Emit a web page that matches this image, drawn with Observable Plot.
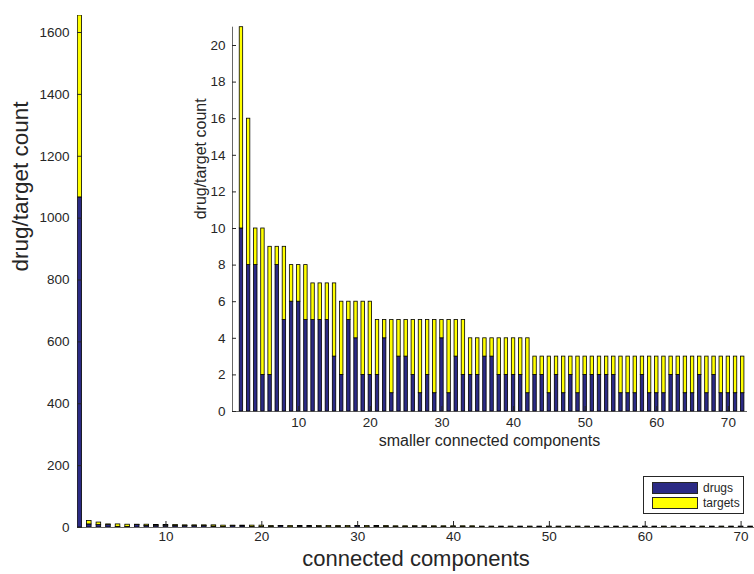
<!DOCTYPE html>
<html><head><meta charset="utf-8">
<script src="https://cdn.jsdelivr.net/npm/d3@7"></script>
<script src="https://cdn.jsdelivr.net/npm/@observablehq/plot@0.6"></script>
<style>
body{margin:0;background:#fff;}
#wrap{position:relative;width:754px;height:574px;overflow:hidden;font-family:"Liberation Sans",Arial,sans-serif;color:#262626;}
#wrap svg{position:absolute;left:0;top:0;}
#legend{position:absolute;left:643px;top:476px;width:99px;height:36px;border:1px solid #262626;background:#fff;font-size:12px;}
#legend .row{position:absolute;left:8px;height:12px;display:flex;align-items:center;}
#legend .sw{width:44px;height:10px;border:1px solid #262626;margin-right:5px;}
</style></head><body><div id="wrap"><div id="legend"></div></div>
<script>
// ---- data ----
const components = d3.range(1, 73);
const drugs = [1067, 10,8,8,2,2,8,5,6,6,5, 5,5,5,3,2,5,4,2,2,2, 4,1,3,3,2,1,2,1,4,1, 3,2,2,2,3,3,2,2,2,2, 1,2,2,1,2,1,2,1,2,2, 2,2,2,1,1,1,2,1,1,1, 2,2,1,1,2,1,2,1,1,1, 1];
const targets = [588, 11,8,2,8,7,1,4,2,2,3, 2,2,2,4,4,1,2,4,4,3, 1,4,2,2,3,4,3,4,1,4, 2,3,2,2,1,1,2,2,2,2, 3,1,1,2,1,2,1,2,1,1, 1,1,1,2,2,2,1,2,2,2, 1,1,2,2,1,2,1,2,2,2, 2];
const seriesNames = ["drugs", "targets"];
const mainYTicks = [0, 200, 400, 600, 800, 1000, 1200, 1400, 1600];
const insetYTicks = [0, 2, 4, 6, 8, 10, 12, 14, 16, 18, 20];
const xTicks = [10, 20, 30, 40, 50, 60, 70];

const NAVY = "#2b2a84", YELLOW = "#ffff00", INK = "#262626";
const colors = [NAVY, YELLOW];

function rows(skipFirst) {
  const out = [];
  components.forEach((c, i) => {
    if (skipFirst && i === 0) return;
    out.push({c, series: "drugs", y1: 0, y2: drugs[i]});
    out.push({c, series: "targets", y1: drugs[i], y2: drugs[i] + targets[i]});
  });
  return out;
}
const HW = 0.24;
const fmt = d3.format("d");
const font = {fontFamily: "Liberation Sans, Arial, sans-serif", background: "transparent", color: INK, overflow: "visible"};

const main = Plot.plot({
  width: 754, height: 574,
  marginLeft: 77, marginRight: 0, marginTop: 15, marginBottom: 47,
  style: {...font, fontSize: "13.5px"},
  x: {domain: [0.77, 71.4], ticks: xTicks, label: null},
  y: {domain: [0, 1655], ticks: mainYTicks, label: null},
  color: {domain: seriesNames, range: colors},
  marks: [
    Plot.rect(rows(false), {x1: d => d.c - HW, x2: d => d.c + HW, y1: "y1", y2: "y2", fill: "series", stroke: "black", strokeWidth: 0.8, clip: true}),
    Plot.frame({anchor: "left", stroke: INK, strokeWidth: 0.7}),
    Plot.frame({anchor: "bottom", stroke: INK, strokeWidth: 0.7}),
    Plot.axisX({ticks: xTicks, tickFormat: fmt, tickSize: -6, tickPadding: 10, stroke: INK, fill: INK, label: null}),
    Plot.axisY({ticks: mainYTicks, tickFormat: fmt, tickSize: -5, tickPadding: 13, stroke: INK, fill: INK, label: null}),
    Plot.text(["connected components"], {frameAnchor: "bottom", dy: 38, fontSize: 22, fill: INK}),
    Plot.text(["drug/target count"], {frameAnchor: "left", dx: -57, rotate: -90, fontSize: 22.5, fill: INK})
  ]
});

const inset = Plot.plot({
  width: 754, height: 574,
  marginLeft: 232, marginRight: 8, marginTop: 26.7, marginBottom: 163,
  style: {...font, fontSize: "13.5px"},
  x: {domain: [0.75, 72.53], ticks: xTicks, label: null},
  y: {domain: [0, 21], ticks: insetYTicks, label: null},
  color: {domain: seriesNames, range: colors},
  marks: [
    Plot.rect(rows(true), {x1: d => d.c - HW, x2: d => d.c + HW, y1: "y1", y2: "y2", fill: "series", stroke: "black", strokeWidth: 0.8}),
    Plot.frame({anchor: "left", stroke: INK, strokeWidth: 0.7}),
    Plot.frame({anchor: "bottom", stroke: INK, strokeWidth: 0.7}),
    Plot.axisX({ticks: xTicks, tickFormat: fmt, tickSize: -5, tickPadding: 11, stroke: INK, fill: INK, label: null}),
    Plot.axisY({ticks: insetYTicks, tickFormat: fmt, tickSize: -4, tickPadding: 11, stroke: INK, fill: INK, label: null}),
    Plot.text(["smaller connected components"], {frameAnchor: "bottom", dy: 34, fontSize: 16, fill: INK}),
    Plot.text(["drug/target count"], {frameAnchor: "left", dx: -32, rotate: -90, fontSize: 16, fill: INK})
  ]
});

const wrap = document.getElementById("wrap");
wrap.insertBefore(inset, wrap.firstChild);
wrap.insertBefore(main, wrap.firstChild);

const legend = document.getElementById("legend");
seriesNames.forEach((name, i) => {
  const r = document.createElement("div");
  r.className = "row";
  r.style.top = (5 + i * 15) + "px";
  r.innerHTML = `<span class="sw" style="background:${colors[i]}"></span><span>${name}</span>`;
  legend.appendChild(r);
});
</script>
</body></html>
